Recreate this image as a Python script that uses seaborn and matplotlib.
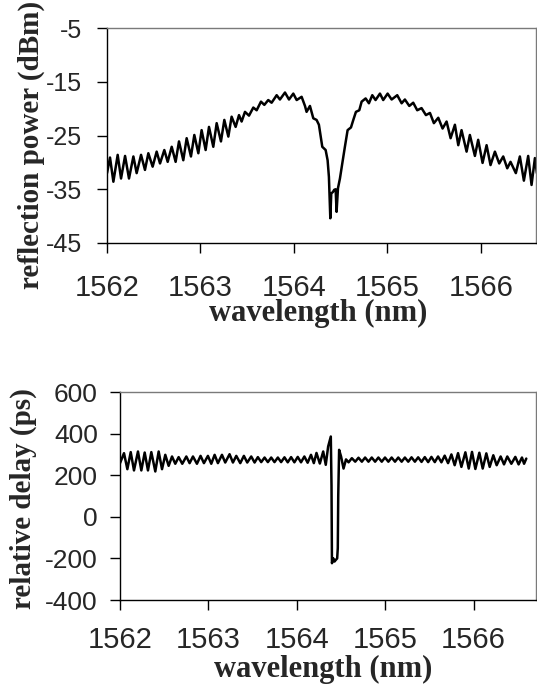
import matplotlib
matplotlib.use("Agg")
import matplotlib.pyplot as plt
import seaborn as sns
import pandas as pd

# ---------------- data ----------------
refl_wl = [1562.000, 1562.032, 1562.068, 1562.114, 1562.150, 1562.193, 1562.235, 1562.282, 1562.317, 1562.364,
           1562.406, 1562.442, 1562.488, 1562.531, 1562.567, 1562.613, 1562.649, 1562.692, 1562.734, 1562.770,
           1562.816, 1562.852, 1562.898, 1562.934, 1562.977, 1563.012, 1563.055, 1563.091, 1563.137, 1563.173,
           1563.219, 1563.255, 1563.298, 1563.333, 1563.376, 1563.412, 1563.440, 1563.476, 1563.519, 1563.565,
           1563.601, 1563.647, 1563.683, 1563.725, 1563.761, 1563.815, 1563.850, 1563.904, 1563.947, 1563.993,
           1564.029, 1564.082, 1564.118, 1564.135, 1564.171, 1564.207, 1564.242, 1564.267, 1564.303, 1564.339,
           1564.360, 1564.374, 1564.389, 1564.399, 1564.417, 1564.431, 1564.446, 1564.456, 1564.471, 1564.492,
           1564.517, 1564.545, 1564.574, 1564.610, 1564.635, 1564.663, 1564.699, 1564.724, 1564.767, 1564.802,
           1564.838, 1564.873, 1564.920, 1564.955, 1565.002, 1565.045, 1565.105, 1565.152, 1565.187, 1565.234,
           1565.276, 1565.319, 1565.365, 1565.412, 1565.455, 1565.497, 1565.544, 1565.590, 1565.633, 1565.676,
           1565.722, 1565.758, 1565.793, 1565.847, 1565.882, 1565.936, 1565.971, 1566.018, 1566.061, 1566.103,
           1566.150, 1566.196, 1566.239, 1566.282, 1566.317, 1566.374, 1566.417, 1566.460, 1566.506, 1566.542,
           1566.578, 1566.599]
refl_dbm = [-32.0, -29.1, -33.6, -28.6, -33.0, -28.8, -33.0, -28.9, -32.0, -28.6,
            -31.4, -28.3, -30.8, -28.0, -30.2, -27.7, -29.9, -27.1, -29.9, -26.1,
            -29.6, -25.5, -28.9, -24.9, -28.3, -24.0, -27.7, -23.4, -27.1, -22.7,
            -26.1, -22.1, -25.2, -21.5, -23.4, -21.2, -22.4, -20.6, -21.3, -19.8,
            -20.3, -18.7, -19.3, -18.4, -18.9, -17.5, -18.3, -17.0, -18.3, -17.2,
            -18.4, -17.8, -19.5, -20.6, -19.5, -21.8, -22.1, -23.0, -27.1, -27.7,
            -29.6, -32.7, -40.4, -35.8, -35.5, -35.1, -35.0, -39.2, -34.8, -33.0,
            -30.2, -27.1, -24.0, -23.5, -22.1, -20.6, -20.3, -18.7, -18.1, -19.0,
            -17.5, -18.4, -17.2, -18.4, -17.2, -18.3, -17.5, -19.0, -18.3, -19.5,
            -18.9, -20.3, -19.9, -21.2, -20.8, -22.7, -21.7, -23.7, -22.4, -25.5,
            -23.0, -26.8, -24.0, -28.0, -24.9, -28.8, -25.8, -30.1, -26.8, -30.5,
            -28.0, -30.2, -28.9, -31.1, -29.9, -32.0, -28.9, -33.4, -28.8, -34.2,
            -29.2, -32.0]

delay_wl = [1562.000, 1562.045, 1562.083, 1562.121, 1562.158, 1562.203, 1562.241, 1562.279, 1562.316, 1562.354,
            1562.399, 1562.437, 1562.475, 1562.512, 1562.550, 1562.588, 1562.625, 1562.663, 1562.704, 1562.750,
            1562.787, 1562.825, 1562.870, 1562.911, 1562.949, 1562.994, 1563.032, 1563.070, 1563.107, 1563.153,
            1563.190, 1563.239, 1563.277, 1563.315, 1563.360, 1563.401, 1563.439, 1563.484, 1563.522, 1563.559,
            1563.597, 1563.635, 1563.672, 1563.710, 1563.747, 1563.785, 1563.822, 1563.860, 1563.897, 1563.935,
            1563.972, 1564.010, 1564.047, 1564.085, 1564.122, 1564.160, 1564.192, 1564.222, 1564.260, 1564.298,
            1564.327, 1564.354, 1564.384, 1564.392, 1564.397, 1564.411, 1564.426, 1564.441, 1564.456, 1564.463,
            1564.468, 1564.478, 1564.500, 1564.528, 1564.556, 1564.585, 1564.622, 1564.660, 1564.697, 1564.735,
            1564.772, 1564.810, 1564.847, 1564.885, 1564.922, 1564.960, 1564.997, 1565.035, 1565.072, 1565.110,
            1565.147, 1565.185, 1565.222, 1565.260, 1565.297, 1565.335, 1565.372, 1565.410, 1565.447, 1565.485,
            1565.522, 1565.560, 1565.597, 1565.635, 1565.672, 1565.710, 1565.748, 1565.785, 1565.823, 1565.861,
            1565.906, 1565.944, 1565.981, 1566.019, 1566.064, 1566.102, 1566.143, 1566.181, 1566.222, 1566.260,
            1566.305, 1566.343, 1566.380, 1566.426, 1566.471, 1566.508, 1566.546, 1566.570, 1566.595]
delay_ps = [258, 306, 229, 311, 223, 314, 223, 309, 223, 311,
            218, 314, 229, 298, 245, 290, 255, 287, 255, 290,
            258, 290, 255, 293, 258, 293, 255, 298, 258, 298,
            261, 301, 261, 293, 258, 293, 261, 290, 261, 287,
            263, 285, 263, 285, 263, 285, 263, 286, 262, 287,
            262, 288, 262, 290, 260, 298, 258, 307, 256, 314,
            250, 338, 386, 150, -223, -199, -215, -207, -200, -150,
            100, 322, 290, 232, 276, 262, 282, 265, 284, 265,
            285, 265, 285, 265, 285, 265, 285, 265, 285, 265,
            285, 265, 285, 265, 286, 265, 286, 264, 287, 263,
            288, 263, 290, 262, 294, 258, 300, 248, 306, 240,
            310, 232, 312, 230, 308, 232, 305, 240, 296, 248,
            290, 252, 290, 255, 288, 252, 285, 255, 280]

wl_ticks = [1562, 1563, 1564, 1565, 1566]
refl_ticks = [-5, -15, -25, -35, -45]
delay_ticks = [600, 400, 200, 0, -200, -400]

refl_df = pd.DataFrame({"wavelength": refl_wl, "power": refl_dbm})
delay_df = pd.DataFrame({"wavelength": delay_wl, "delay": delay_ps})

# ---------------- style ----------------
sns.set_style("white")
plt.rcParams["font.family"] = ["Liberation Sans", "DejaVu Sans"]

fig = plt.figure(figsize=(5.37, 6.87), dpi=100)
ax1 = fig.add_axes([0.1993, 0.6463, 0.7989, 0.3129])
ax2 = fig.add_axes([0.2235, 0.1266, 0.7755, 0.3028])

sns.lineplot(data=refl_df, x="wavelength", y="power", sort=False, estimator=None,
             color="black", linewidth=1.8, ax=ax1,
             solid_joinstyle="round", solid_capstyle="round")
sns.lineplot(data=delay_df, x="wavelength", y="delay", sort=False, estimator=None,
             color="black", linewidth=1.8, ax=ax2,
             solid_joinstyle="round", solid_capstyle="round")

label_font = dict(family=["Liberation Serif", "DejaVu Serif"], weight="bold")


def style_axis(ax, yticks, ylim, xlim, xlab_xy, ylab_xy, ylabel, ytick_size, ypad, xpad):
    ax.set_xlim(*xlim)
    ax.set_ylim(*ylim)
    ax.set_xticks(wl_ticks)
    ax.set_xticklabels([str(t) for t in wl_ticks])
    ax.set_yticks(yticks)
    ax.set_yticklabels([str(t) for t in yticks])
    ax.tick_params(axis="x", direction="out", length=7, width=1, color="black",
                   labelsize=21, pad=xpad, bottom=True)
    ax.tick_params(axis="y", direction="out", length=7, width=1, color="black",
                   labelsize=ytick_size, pad=ypad, left=True)
    for s in ["left", "bottom"]:
        ax.spines[s].set_color("black")
        ax.spines[s].set_linewidth(1.0)
    for s in ["top", "right"]:
        ax.spines[s].set_visible(True)
        ax.spines[s].set_color("#7a7a7a")
        ax.spines[s].set_linewidth(1.0)
    ax.set_xlabel("wavelength (nm)", fontsize=22, **label_font)
    ax.set_ylabel(ylabel, fontsize=21, **label_font)
    ax.xaxis.set_label_coords(*xlab_xy)
    ax.yaxis.set_label_coords(*ylab_xy)
    ax.xaxis.label.set_verticalalignment("center")
    ax.yaxis.label.set_verticalalignment("center")
    ax.grid(False)


style_axis(ax1, refl_ticks, (-45, -5), (1562, 1566.59), (0.492, -0.33), (-0.177, 0.456),
           "reflection power (dBm)", 18, 11, 15)
style_axis(ax2, delay_ticks, (-400, 600), (1562, 1566.71), (0.487, -0.334), (-0.233, 0.49),
           "relative delay (ps)", 19, 9, 12)

fig.savefig("out.png", dpi=100)
